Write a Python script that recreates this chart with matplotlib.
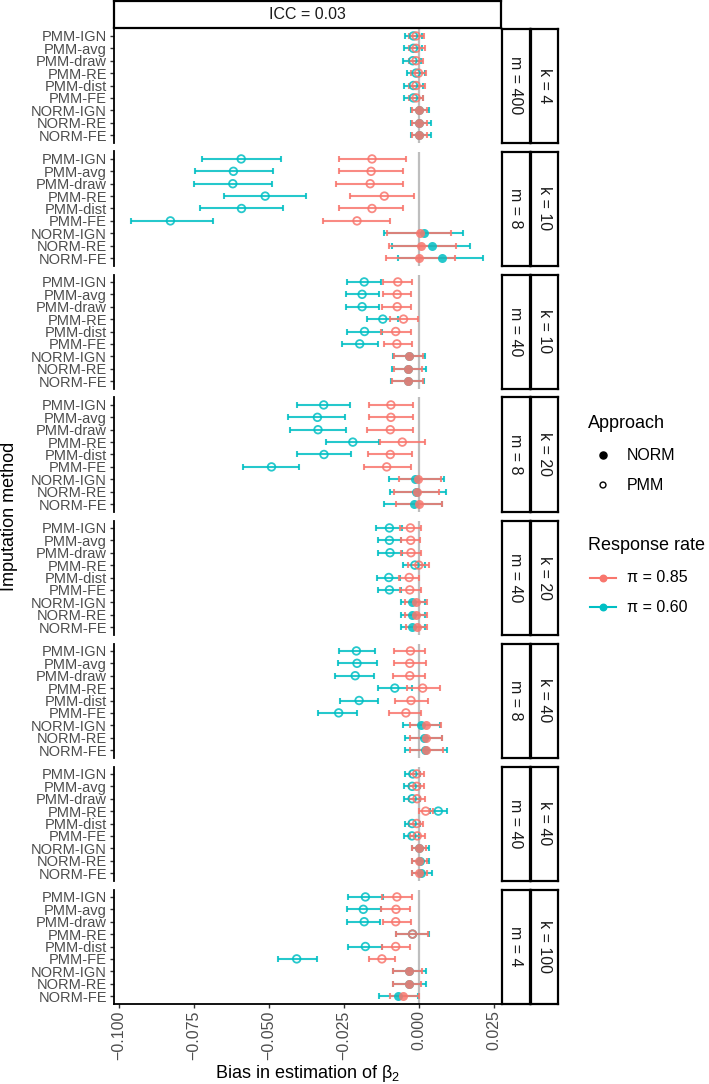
import numpy as np
import matplotlib
matplotlib.use("Agg")
import matplotlib.pyplot as plt

plt.rcParams["font.family"] = ["Liberation Sans", "DejaVu Sans"]
plt.rcParams["mathtext.fontset"] = "custom"
plt.rcParams["mathtext.rm"] = "Liberation Sans"
plt.rcParams["mathtext.it"] = "Liberation Sans:italic"

# --- data ---
methods = ["PMM-IGN", "PMM-avg", "PMM-draw", "PMM-RE", "PMM-dist", "PMM-FE",
           "NORM-IGN", "NORM-RE", "NORM-FE"]
approach = ["PMM"] * 6 + ["NORM"] * 3
m_labels = ["m = 400", "m = 8", "m = 40", "m = 8", "m = 40", "m = 8", "m = 40", "m = 4"]
k_labels = ["k = 4", "k = 10", "k = 10", "k = 20", "k = 20", "k = 40", "k = 40", "k = 100"]

# response rate pi = 0.60
est60 = [
    [-0.0019, -0.0019, -0.0021, -0.0010, -0.0019, -0.0019, 0.0001, 0.0001, 0.0001],
    [-0.0593, -0.0619, -0.0621, -0.0513, -0.0592, -0.0829, 0.0016, 0.0042, 0.0076],
    [-0.0183, -0.0190, -0.0190, -0.0121, -0.0182, -0.0198, -0.0033, -0.0036, -0.0038],
    [-0.0318, -0.0339, -0.0337, -0.0221, -0.0317, -0.0492, -0.0013, -0.0010, -0.0018],
    [-0.0099, -0.0099, -0.0097, -0.0014, -0.0101, -0.0099, -0.0022, -0.0022, -0.0022],
    [-0.0209, -0.0207, -0.0213, -0.0081, -0.0200, -0.0268, 0.0008, 0.0016, 0.0020],
    [-0.0021, -0.0023, -0.0023, 0.0064, -0.0023, -0.0024, 0.0001, 0.0003, 0.0006],
    [-0.0179, -0.0186, -0.0183, -0.0022, -0.0179, -0.0408, -0.0033, -0.0035, -0.0071],
]
lo60 = [
    [-0.0047, -0.0049, -0.0052, -0.0039, -0.0049, -0.0049, -0.0028, -0.0028, -0.0028],
    [-0.0723, -0.0748, -0.0751, -0.0650, -0.0729, -0.0961, -0.0118, -0.0090, -0.0069],
    [-0.0242, -0.0244, -0.0244, -0.0174, -0.0241, -0.0256, -0.0088, -0.0089, -0.0093],
    [-0.0407, -0.0438, -0.0432, -0.0310, -0.0408, -0.0588, -0.0101, -0.0097, -0.0116],
    [-0.0142, -0.0138, -0.0136, -0.0052, -0.0141, -0.0138, -0.0060, -0.0061, -0.0061],
    [-0.0266, -0.0272, -0.0279, -0.0138, -0.0264, -0.0338, -0.0054, -0.0046, -0.0047],
    [-0.0047, -0.0050, -0.0050, 0.0037, -0.0048, -0.0051, -0.0024, -0.0022, -0.0022],
    [-0.0238, -0.0242, -0.0240, -0.0078, -0.0238, -0.0469, -0.0086, -0.0086, -0.0133],
]
hi60 = [
    [0.0009, 0.0009, 0.0007, 0.0020, 0.0014, 0.0012, 0.0034, 0.0040, 0.0040],
    [-0.0462, -0.0487, -0.0490, -0.0378, -0.0454, -0.0686, 0.0147, 0.0170, 0.0214],
    [-0.0127, -0.0132, -0.0132, -0.0069, -0.0124, -0.0138, 0.0020, 0.0024, 0.0017],
    [-0.0230, -0.0247, -0.0243, -0.0132, -0.0226, -0.0401, 0.0082, 0.0090, 0.0078],
    [-0.0058, -0.0060, -0.0058, 0.0020, -0.0063, -0.0061, 0.0020, 0.0020, 0.0020],
    [-0.0146, -0.0139, -0.0149, -0.0023, -0.0136, -0.0206, 0.0070, 0.0077, 0.0092],
    [0.0003, 0.0003, 0.0003, 0.0092, 0.0003, 0.0001, 0.0034, 0.0033, 0.0042],
    [-0.0121, -0.0127, -0.0130, 0.0034, -0.0124, -0.0341, 0.0023, 0.0022, -0.0005],
]

# response rate pi = 0.85
est85 = [
    [-0.0010, -0.0010, -0.0010, -0.0002, -0.0010, -0.0010, 0.0001, 0.0000, 0.0001],
    [-0.0157, -0.0160, -0.0163, -0.0116, -0.0157, -0.0207, 0.0003, 0.0007, 0.0000],
    [-0.0071, -0.0073, -0.0073, -0.0052, -0.0078, -0.0074, -0.0033, -0.0036, -0.0038],
    [-0.0094, -0.0094, -0.0096, -0.0056, -0.0096, -0.0108, -0.0002, -0.0008, 0.0001],
    [-0.0029, -0.0028, -0.0027, -0.0001, -0.0033, -0.0031, -0.0010, -0.0011, -0.0008],
    [-0.0029, -0.0031, -0.0031, 0.0012, -0.0027, -0.0044, 0.0022, 0.0022, 0.0023],
    [-0.0008, -0.0008, -0.0007, 0.0022, -0.0008, -0.0006, 0.0000, 0.0001, 0.0001],
    [-0.0074, -0.0077, -0.0078, -0.0022, -0.0078, -0.0124, -0.0032, -0.0035, -0.0052],
]
lo85 = [
    [-0.0032, -0.0032, -0.0032, -0.0028, -0.0032, -0.0032, -0.0024, -0.0024, -0.0024],
    [-0.0267, -0.0266, -0.0278, -0.0229, -0.0268, -0.0319, -0.0106, -0.0099, -0.0110],
    [-0.0121, -0.0121, -0.0123, -0.0097, -0.0127, -0.0118, -0.0082, -0.0084, -0.0090],
    [-0.0166, -0.0167, -0.0174, -0.0130, -0.0170, -0.0182, -0.0068, -0.0082, -0.0077],
    [-0.0063, -0.0061, -0.0061, -0.0036, -0.0067, -0.0063, -0.0047, -0.0046, -0.0043],
    [-0.0082, -0.0082, -0.0086, -0.0039, -0.0081, -0.0099, -0.0030, -0.0030, -0.0030],
    [-0.0030, -0.0032, -0.0032, 0.0000, -0.0032, -0.0030, -0.0024, -0.0023, -0.0022],
    [-0.0124, -0.0128, -0.0121, -0.0077, -0.0124, -0.0168, -0.0086, -0.0086, -0.0097],
]
hi85 = [
    [0.0017, 0.0020, 0.0014, 0.0023, 0.0020, 0.0014, 0.0026, 0.0026, 0.0026],
    [-0.0042, -0.0053, -0.0053, -0.0016, -0.0053, -0.0098, 0.0106, 0.0123, 0.0121],
    [-0.0024, -0.0026, -0.0026, -0.0004, -0.0027, -0.0024, 0.0014, 0.0010, 0.0012],
    [-0.0019, -0.0019, -0.0020, 0.0020, -0.0022, -0.0028, 0.0072, 0.0066, 0.0076],
    [0.0006, 0.0003, 0.0008, 0.0033, 0.0000, 0.0007, 0.0028, 0.0025, 0.0028],
    [0.0020, 0.0022, 0.0021, 0.0070, 0.0029, 0.0008, 0.0073, 0.0077, 0.0079],
    [0.0017, 0.0017, 0.0020, 0.0048, 0.0014, 0.0020, 0.0023, 0.0025, 0.0025],
    [-0.0024, -0.0031, -0.0028, 0.0031, -0.0029, -0.0080, 0.0009, 0.0007, -0.0001],
]

xticks = [-0.100, -0.075, -0.050, -0.025, 0.000, 0.025]

SALMON = "#F8766D"
TEAL = "#00BFC4"
GREY_TXT = "#4D4D4D"

# --- layout in pixels ---
W, H = 709, 1084
fig = plt.figure(figsize=(W / 100, H / 100), dpi=100)


def add_px(x0, y0, x1, y1):
    return fig.add_axes([x0 / W, 1 - y1 / H, (x1 - x0) / W, (y1 - y0) / H])


def strip(x0, y0, x1, y1, label, rot):
    s = add_px(x0, y0, x1, y1)
    s.set_xticks([])
    s.set_yticks([])
    for sp in s.spines.values():
        sp.set_linewidth(1.6)
        sp.set_color("black")
    s.text(0.5, 0.5, label, rotation=rot, ha="center", va="center",
           fontsize=11.5, color="#1A1A1A", transform=s.transAxes)


PX0, PX1 = 114, 501
TOP0, PH, STEP = 28.5, 114, 123
is_norm = np.array([a == "NORM" for a in approach])
ypos = np.arange(len(methods))

for i in range(8):
    t = TOP0 + i * STEP
    ax = add_px(PX0, t, PX1, t + PH)
    ax.axvline(0, color="#BEBEBE", lw=1.6, zorder=0)
    for est, lo, hi, col in [(est60[i], lo60[i], hi60[i], TEAL),
                             (est85[i], lo85[i], hi85[i], SALMON)]:
        est = np.array(est)
        lo = np.array(lo)
        hi = np.array(hi)
        ax.errorbar(est, ypos, xerr=[est - lo, hi - est], fmt="none", ecolor=col,
                    elinewidth=1.5, capsize=2, capthick=1.5, alpha=0.85, zorder=2)
        ax.scatter(est[is_norm], ypos[is_norm], s=42, color=col, alpha=0.85,
                   linewidths=0, zorder=3)
        ax.scatter(est[~is_norm], ypos[~is_norm], s=30, facecolors="none",
                   edgecolors=col, linewidths=1.3, alpha=0.85, zorder=3)
    ax.set_xlim(-0.1017, 0.0273)
    ax.set_ylim(len(methods) - 0.4, -0.6)
    ax.set_yticks(ypos)
    ax.set_yticklabels(methods, fontsize=10.5, color=GREY_TXT)
    ax.tick_params(axis="y", length=3, width=1, color="#333333", pad=2)
    ax.spines["top"].set_visible(False)
    ax.spines["right"].set_visible(False)
    ax.spines["left"].set_linewidth(1.3)
    ax.set_facecolor("none")
    if i < 7:
        ax.spines["bottom"].set_visible(False)
        ax.set_xticks([])
    else:
        ax.spines["bottom"].set_linewidth(1.3)
        ax.set_xticks(xticks)
        ax.set_xticklabels([f"{v:.3f}".replace("-", "\u2212") for v in xticks],
                           rotation=90, fontsize=11.5, color=GREY_TXT)
        ax.tick_params(axis="x", length=3, width=1, color="#333333", pad=2)
    strip(502, t, 529.5, t + PH, m_labels[i], -90)
    strip(530.5, t, 558, t + PH, k_labels[i], -90)

strip(PX0, 1, PX1, 28, "ICC = 0.03", 0)

# --- overlay for legend and axis titles ---
ov = fig.add_axes([0, 0, 1, 1])
ov.set_xlim(0, W)
ov.set_ylim(H, 0)
ov.axis("off")
ov.patch.set_visible(False)

ov.text(10, (TOP0 + TOP0 + 7 * STEP + PH) / 2, "Imputation method", rotation=90,
        ha="center", va="center", fontsize=13)
ov.text((PX0 + PX1) / 2, 1073, r"Bias in estimation of $\mathrm{\beta}_2$",
        ha="center", va="center", fontsize=13)

ov.text(588, 423, "Approach", ha="left", va="center", fontsize=13)
ov.scatter([603], [455], s=26, color="black")
ov.text(627, 455, "NORM", ha="left", va="center", fontsize=11.5)
ov.scatter([603], [485], s=18, facecolors="none", edgecolors="black", linewidths=1)
ov.text(627, 485, "PMM", ha="left", va="center", fontsize=11.5)

ov.text(588, 546, "Response rate", ha="left", va="center", fontsize=13)
for yy, col, lab in [(578, SALMON, "\u03c0 = 0.85"), (607, TEAL, "\u03c0 = 0.60")]:
    ov.plot([590, 616], [yy, yy], color=col, lw=1.5)
    ov.scatter([603], [yy], s=22, color=col, zorder=3)
    ov.text(627, yy, lab, ha="left", va="center", fontsize=11.5)

fig.savefig("out.png", dpi=100)
